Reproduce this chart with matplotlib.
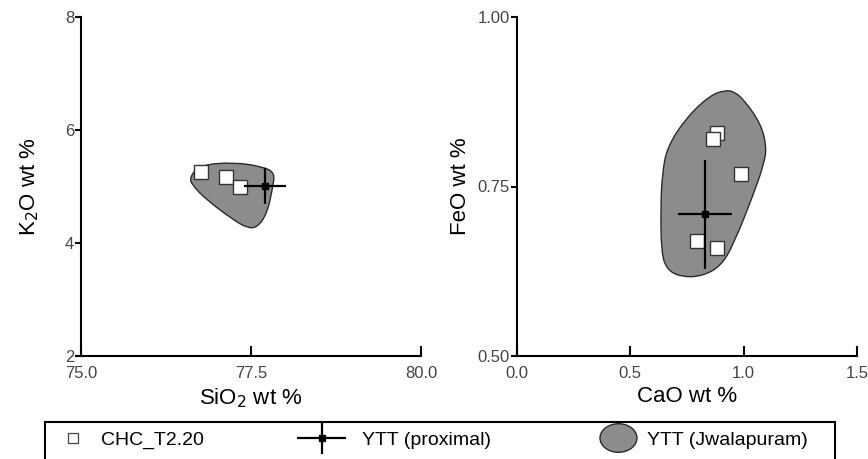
import matplotlib
matplotlib.use("Agg")
import matplotlib.pyplot as plt
from matplotlib.path import Path
from matplotlib.patches import PathPatch, Ellipse, Rectangle
from matplotlib.lines import Line2D
from matplotlib.legend_handler import HandlerPatch, HandlerErrorbar

# --- data ---
# left panel: SiO2 vs K2O
chc_sio2 = [76.76, 77.13, 77.34]
chc_k2o = [5.26, 5.16, 4.99]
ytt_sio2, ytt_k2o = 77.70, 5.01
ytt_sio2_err, ytt_k2o_err = 0.31, 0.32
jwala_sio2 = [76.60, 76.75, 77.24, 77.68, 77.85, 77.82, 77.74, 77.59, 77.44, 77.24, 76.85, 76.63]
jwala_k2o = [5.17, 5.38, 5.43, 5.35, 5.24, 4.99, 4.53, 4.27, 4.27, 4.41, 4.76, 5.03]

# right panel: CaO vs FeO
chc_cao = [0.884, 0.866, 0.987, 0.795, 0.884]
chc_feo = [0.829, 0.820, 0.769, 0.669, 0.659]
ytt_cao, ytt_feo = 0.828, 0.709
ytt_cao_err, ytt_feo_err = 0.119, 0.080
jwala_cao = [0.921, 0.854, 0.751, 0.663, 0.641, 0.634, 0.637, 0.663, 0.722, 0.810,
             0.899, 0.957, 1.045, 1.090, 1.101, 1.075, 1.001, 0.957]
jwala_feo = [0.892, 0.885, 0.853, 0.809, 0.769, 0.720, 0.651, 0.627, 0.617, 0.617,
             0.632, 0.666, 0.740, 0.784, 0.809, 0.843, 0.878, 0.890]

labels = ["CHC_T2.20", "YTT (proximal)", "YTT (Jwalapuram)"]

FILL = "#8c8c8c"
EDGE = "#2a2a2a"


def smooth_outline(xs, ys):
    # closed quadratic bezier through midpoints of the traced outline
    n = len(xs)
    mids = [((xs[i] + xs[(i + 1) % n]) / 2, (ys[i] + ys[(i + 1) % n]) / 2) for i in range(n)]
    verts = [mids[-1]]
    codes = [Path.MOVETO]
    for i in range(n):
        verts += [(xs[i], ys[i]), mids[i]]
        codes += [Path.CURVE3, Path.CURVE3]
    return Path(verts, codes)


class HandlerEllipse(HandlerPatch):
    def create_artists(self, legend, orig_handle, xdescent, ydescent, width, height, fontsize, trans):
        center = 0.5 * width - xdescent, 0.5 * height - ydescent
        p = Ellipse(xy=center, width=width * 1.0, height=height * 2.1)
        self.update_prop(p, orig_handle, legend)
        p.set_transform(trans)
        return [p]


plt.rcParams["font.family"] = ["Liberation Sans", "DejaVu Sans"]

fig = plt.figure(figsize=(8.68, 4.59), dpi=100)
ax1 = fig.add_axes([81 / 868, 1 - 356 / 459, 340 / 868, 339 / 459])
ax2 = fig.add_axes([517 / 868, 1 - 356 / 459, 340 / 868, 339 / 459])


def style(ax):
    for s in ["top", "right"]:
        ax.spines[s].set_visible(False)
    for s in ["left", "bottom"]:
        ax.spines[s].set_linewidth(1.5)
    ax.tick_params(axis="x", direction="in", length=7, width=1.5, pad=7,
                   labelsize=12, labelcolor="#444444")
    ax.tick_params(axis="y", direction="out", length=4, width=1.5, pad=1,
                   labelsize=12, labelcolor="#444444")


def panel(ax, jx, jy, cx, cy, px, py, pxe, pye):
    patch = PathPatch(smooth_outline(jx, jy), facecolor=FILL, edgecolor=EDGE,
                      linewidth=1.0, zorder=1)
    ax.add_patch(patch)
    ax.plot(cx, cy, linestyle="none", marker="s", markersize=10.5,
            markerfacecolor="white", markeredgecolor="#333333",
            markeredgewidth=1.0, zorder=3)
    eb = ax.errorbar(px, py, xerr=pxe, yerr=pye, fmt="s", color="black",
                     markersize=5, elinewidth=1.6, capsize=0, zorder=4)
    return eb, patch


eb, patch = panel(ax1, jwala_sio2, jwala_k2o, chc_sio2, chc_k2o,
                  ytt_sio2, ytt_k2o, ytt_sio2_err, ytt_k2o_err)
ax1.set_xlim(75, 80)
ax1.set_ylim(2, 8)
ax1.set_xticks([75, 77.5, 80])
ax1.set_xticklabels(["75.0", "77.5", "80.0"])
ax1.set_yticks([2, 4, 6, 8])
ax1.set_xlabel("SiO$_2$ wt %", fontsize=16, labelpad=4)
ax1.set_ylabel("K$_2$O wt %", fontsize=16, labelpad=17)
style(ax1)

panel(ax2, jwala_cao, jwala_feo, chc_cao, chc_feo,
      ytt_cao, ytt_feo, ytt_cao_err, ytt_feo_err)
ax2.set_xlim(0, 1.5)
ax2.set_ylim(0.5, 1.0)
ax2.set_xticks([0, 0.5, 1.0, 1.5])
ax2.set_xticklabels(["0.0", "0.5", "1.0", "1.5"])
ax2.set_yticks([0.5, 0.75, 1.0])
ax2.set_yticklabels(["0.50", "0.75", "1.00"])
ax2.set_xlabel("CaO wt %", fontsize=16, labelpad=4)
ax2.set_ylabel("FeO wt %", fontsize=16, labelpad=5)
style(ax2)

# legend: one frame along the bottom, three entries placed inside it
fig.add_artist(Rectangle((45 / 868, -0.1), 790 / 868, 0.1 + 1 - 422 / 459,
                         transform=fig.transFigure, fill=False,
                         edgecolor="black", linewidth=1.5))

sq_proxy = Line2D([], [], linestyle="none", marker="s", markersize=7.5,
                  markerfacecolor="white", markeredgecolor="#444444", markeredgewidth=0.9)
entries = [
    (sq_proxy, labels[0], None, 54.5 / 868, 0.5),
    (eb, labels[1], HandlerErrorbar(xerr_size=1.26, yerr_size=0.82), 303.5 / 868, 1.1),
    (patch, labels[2], HandlerEllipse(), 600 / 868, 0.5),
]
for handle, text, handler, x0, tpad in entries:
    hmap = {handle: handler} if handler is not None else None
    lg = fig.legend([handle], [text], handler_map=hmap, loc="center left",
                    bbox_to_anchor=(x0, 1 - 440 / 459), fontsize=14, frameon=False,
                    handlelength=1.9, handletextpad=tpad, borderpad=0, borderaxespad=0)

fig.savefig("out.png", dpi=100)
